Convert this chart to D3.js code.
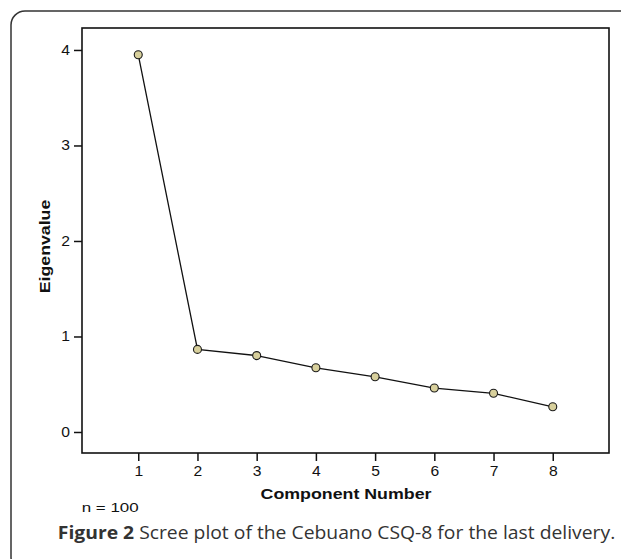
<!DOCTYPE html>
<html>
<head>
<meta charset="utf-8">
<script src="https://cdn.jsdelivr.net/npm/d3@7/dist/d3.min.js"></script>
<style>
  html, body { margin: 0; padding: 0; background: #fff; }
  svg { display: block; }
</style>
</head>
<body>
<svg id="chart" width="621" height="559"></svg>
<script>
const components = [1, 2, 3, 4, 5, 6, 7, 8];
const eigenvalues = [3.95, 0.865, 0.80, 0.672, 0.578, 0.46, 0.405, 0.264];
const yTicks = [0, 1, 2, 3, 4];
const xLabel = "Component Number";
const yLabel = "Eigenvalue";
const noteText = "n = 100";
const captionBold = "Figure 2";
const captionRest = " Scree plot of the Cebuano CSQ-8 for the last delivery.";

const svg = d3.select("#chart");
const plot = { left: 82, right: 609, top: 28, bottom: 453 };

// outer rounded box
svg.append("rect")
  .attr("x", 11).attr("y", 11)
  .attr("width", 640).attr("height", 560)
  .attr("rx", 14).attr("ry", 14)
  .attr("fill", "none").attr("stroke", "#333").attr("stroke-width", 1.5);

const x = d3.scaleLinear().domain([0.05, 8.95]).range([plot.left, plot.right]);
const y = d3.scaleLinear().domain([-0.22, 4.23]).range([plot.bottom, plot.top]);

const font = "Liberation Sans";

// axes
const yAxis = svg.append("g")
  .attr("transform", `translate(${plot.left},0)`)
  .call(d3.axisLeft(y).tickValues(yTicks).tickSize(8).tickPadding(4).tickFormat(d3.format("d")));
const xAxis = svg.append("g")
  .attr("transform", `translate(0,${plot.bottom})`)
  .call(d3.axisBottom(x).tickValues(components).tickSize(8).tickPadding(5).tickFormat(d3.format("d")));
[yAxis, xAxis].forEach(g => {
  g.attr("font-family", font).attr("font-size", 14);
  g.select(".domain").remove();
  g.selectAll(".tick line").attr("stroke", "#111").attr("stroke-width", 1.5);
  g.selectAll(".tick text").attr("fill", "#111")
    .attr("font-family", font).attr("font-size", 14)
    .style("font-family", font).style("font-size", "14px");
});
// slight horizontal widening of tick digits to match reference glyph width
yAxis.selectAll(".tick text").each(function() {
  const t = d3.select(this);
  const xx = +t.attr("x");
  t.attr("x", null).attr("transform", `translate(${xx},0) scale(1.12,1)`);
});
xAxis.selectAll(".tick text").each(function() {
  const t = d3.select(this);
  const yy = +t.attr("y");
  t.attr("y", null).attr("transform", `translate(0,${yy}) scale(1.12,1)`);
});

// frame
svg.append("rect")
  .attr("x", plot.left).attr("y", plot.top)
  .attr("width", plot.right - plot.left).attr("height", plot.bottom - plot.top)
  .attr("fill", "none").attr("stroke", "#111").attr("stroke-width", 1.6);

// line + points
const data = components.map((c, i) => ({ c, v: eigenvalues[i] }));
svg.append("path")
  .datum(data)
  .attr("fill", "none").attr("stroke", "#111").attr("stroke-width", 1.3)
  .attr("d", d3.line().x(d => x(d.c)).y(d => y(d.v)));
svg.selectAll("circle.pt").data(data).enter().append("circle")
  .attr("class", "pt")
  .attr("cx", d => x(d.c)).attr("cy", d => y(d.v))
  .attr("r", 4)
  .attr("fill", "#d8d09c").attr("stroke", "#1a1a1a").attr("stroke-width", 1.1);

function fitText(sel, targetW) {
  const w = sel.node().getComputedTextLength();
  return w > 0 ? targetW / w : 1;
}

// x label
const xl = svg.append("text").text(xLabel)
  .attr("text-anchor", "middle")
  .attr("font-family", font).attr("font-size", 15.5).attr("font-weight", "bold")
  .attr("fill", "#111");
const sx1 = fitText(xl, 171);
xl.attr("transform", `translate(346,498.5) scale(${sx1},1)`);

// y label
const yl = svg.append("text").text(yLabel)
  .attr("text-anchor", "middle")
  .attr("font-family", font).attr("font-size", 14.5).attr("font-weight", "bold")
  .attr("fill", "#111");
const sy1 = fitText(yl, 93.5);
yl.attr("transform", `translate(50,246.5) rotate(-90) scale(${sy1},1)`);

// note
const nt = svg.append("text").text(noteText)
  .attr("text-anchor", "start")
  .attr("font-family", font).attr("font-size", 13.4)
  .attr("fill", "#111");
const sn = fitText(nt, 57);
nt.attr("transform", `translate(81.7,512.3) scale(${sn},1)`);

// caption
const cap = svg.append("text")
  .attr("font-family", "Open Sans").attr("font-size", 18)
  .attr("fill", "#333");
cap.append("tspan").attr("font-weight", "bold").text(captionBold);
cap.append("tspan").text(captionRest);
const sc = fitText(cap, 558);
cap.attr("transform", `translate(57.8,539) scale(${sc},1)`);
</script>
</body>
</html>
